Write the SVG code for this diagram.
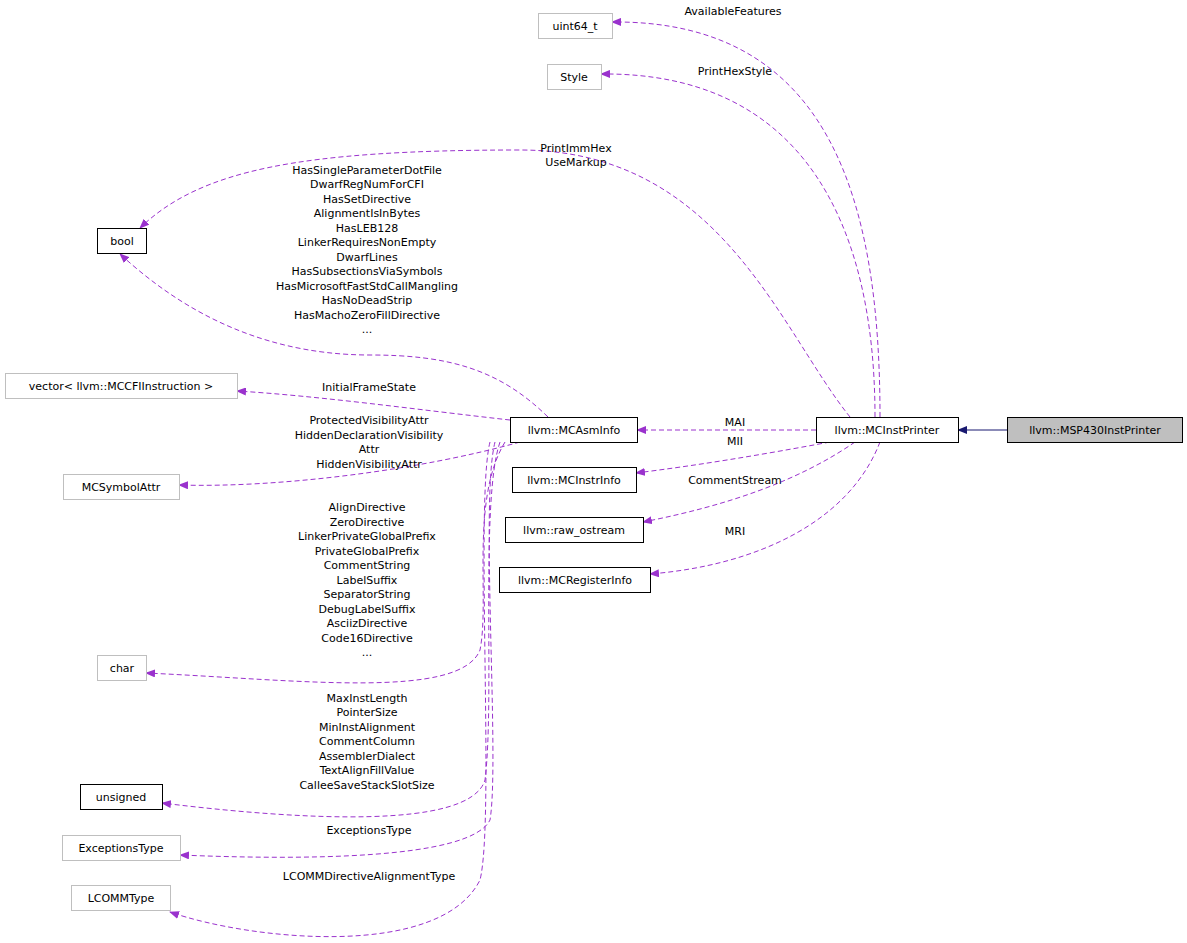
<svg xmlns="http://www.w3.org/2000/svg" width="1187" height="943" viewBox="0 0 1187 943">
<defs>
<marker id="ap" markerWidth="10" markerHeight="8" refX="9" refY="4" orient="auto" markerUnits="userSpaceOnUse"><path d="M0,0 L10,4 L0,8 Z" fill="#9a32cd"/></marker>
<marker id="an" markerWidth="10" markerHeight="8" refX="9" refY="4" orient="auto" markerUnits="userSpaceOnUse"><path d="M0,0 L10,4 L0,8 Z" fill="#191970"/></marker>
</defs>
<style>
text{font-family:"DejaVu Sans","Liberation Sans",sans-serif;font-size:11px;fill:#000}
.n rect{fill:#fff;stroke:#000}
.g rect{fill:#fff;stroke:#bfbfbf}
.e{fill:none;stroke:#9a32cd;stroke-dasharray:5,3;marker-end:url(#ap)}
.lb text{text-anchor:middle}
</style>
<rect width="1187" height="943" fill="#fff"/>
<g id="connectors">
<path class="e" d="M880,417 C880,200 830,20 612,22"/>
<path class="e" d="M875,417 C875,220 800,72 601,74"/>
<path class="e" d="M850,417 C780,330 720,150 520,150 C300,150 200,170 140,228"/>
<path class="e" d="M548,417 C500,370 450,355 370,355 C250,355 170,300 120,254"/>
<path class="e" d="M510,420 C420,410 320,396 237,391"/>
<path class="e" d="M520,442 C420,470 280,488 179,485"/>
<path class="e" d="M505,442 C470,500 490,600 480,650 C460,700 300,680 146,673"/>
<path class="e" d="M500,442 C480,500 495,700 485,780 C470,830 300,820 162,803"/>
<path class="e" d="M495,442 C480,500 500,760 490,820 C470,860 300,860 180,855"/>
<path class="e" d="M490,442 C475,500 495,820 480,880 C440,960 250,940 170,912"/>
<path class="e" d="M816,430 L637,430"/>
<path class="e" d="M830,442 C760,455 700,465 636,473"/>
<path class="e" d="M855,442 C800,480 730,505 643,522"/>
<path class="e" d="M880,442 C850,520 760,565 650,574"/>
<path d="M1007,430 L958,430" fill="none" stroke="#191970" marker-end="url(#an)"/>
<g class="lb">
<text x="733" y="15">AvailableFeatures</text>
<text x="735" y="75">PrintHexStyle</text>
<text x="576" y="152">PrintImmHex</text>
<text x="576" y="166">UseMarkup</text>
<text x="367" y="174">HasSingleParameterDotFile</text>
<text x="367" y="188">DwarfRegNumForCFI</text>
<text x="367" y="203">HasSetDirective</text>
<text x="367" y="217">AlignmentIsInBytes</text>
<text x="367" y="232">HasLEB128</text>
<text x="367" y="246">LinkerRequiresNonEmpty</text>
<text x="367" y="261">DwarfLines</text>
<text x="367" y="275">HasSubsectionsViaSymbols</text>
<text x="367" y="290">HasMicrosoftFastStdCallMangling</text>
<text x="367" y="304">HasNoDeadStrip</text>
<text x="367" y="319">HasMachoZeroFillDirective</text>
<text x="367" y="333">...</text>
<text x="369" y="391">InitialFrameState</text>
<text x="369" y="424">ProtectedVisibilityAttr</text>
<text x="369" y="439">HiddenDeclarationVisibility</text>
<text x="369" y="453">Attr</text>
<text x="369" y="468">HiddenVisibilityAttr</text>
<text x="367" y="511">AlignDirective</text>
<text x="367" y="526">ZeroDirective</text>
<text x="367" y="540">LinkerPrivateGlobalPrefix</text>
<text x="367" y="555">PrivateGlobalPrefix</text>
<text x="367" y="569">CommentString</text>
<text x="367" y="584">LabelSuffix</text>
<text x="367" y="598">SeparatorString</text>
<text x="367" y="613">DebugLabelSuffix</text>
<text x="367" y="627">AsciizDirective</text>
<text x="367" y="642">Code16Directive</text>
<text x="367" y="656">...</text>
<text x="367" y="702">MaxInstLength</text>
<text x="367" y="716">PointerSize</text>
<text x="367" y="731">MinInstAlignment</text>
<text x="367" y="745">CommentColumn</text>
<text x="367" y="760">AssemblerDialect</text>
<text x="367" y="774">TextAlignFillValue</text>
<text x="367" y="789">CalleeSaveStackSlotSize</text>
<text x="369" y="834">ExceptionsType</text>
<text x="369" y="880">LCOMMDirectiveAlignmentType</text>
<text x="735" y="426">MAI</text>
<text x="735" y="445">MII</text>
<text x="735" y="484">CommentStream</text>
<text x="735" y="535">MRI</text>
</g>
</g>
<g class="lb">
<g id="uint64_t" class="g"><rect x="538.5" y="13.5" width="74" height="25"/><text x="575" y="30">uint64_t</text></g>
<g id="Style" class="g"><rect x="547.5" y="64.5" width="54" height="25"/><text x="574" y="81">Style</text></g>
<g id="bool" class="n"><rect x="97.5" y="228.5" width="49" height="25"/><text x="122" y="245">bool</text></g>
<g id="vector" class="g"><rect x="5.5" y="373.5" width="232" height="25"/><text x="121" y="390">vector&lt; llvm::MCCFIInstruction &gt;</text></g>
<g id="MCSymbolAttr" class="g"><rect x="63.5" y="474.5" width="116" height="25"/><text x="121" y="491">MCSymbolAttr</text></g>
<g id="char" class="g"><rect x="97.5" y="655.5" width="49" height="25"/><text x="122" y="672">char</text></g>
<g id="unsigned" class="n"><rect x="80.5" y="784.5" width="82" height="25"/><text x="121" y="801">unsigned</text></g>
<g id="ExceptionsType" class="g"><rect x="62.5" y="835.5" width="118" height="25"/><text x="121" y="852">ExceptionsType</text></g>
<g id="LCOMMType" class="g"><rect x="71.5" y="885.5" width="99" height="25"/><text x="121" y="902">LCOMMType</text></g>
<g id="MCAsmInfo" class="n"><rect x="510.5" y="417.5" width="127" height="25"/><text x="574" y="434">llvm::MCAsmInfo</text></g>
<g id="MCInstrInfo" class="n"><rect x="512.5" y="467.5" width="124" height="25"/><text x="574" y="484">llvm::MCInstrInfo</text></g>
<g id="raw_ostream" class="n"><rect x="505.5" y="517.5" width="138" height="25"/><text x="574" y="534">llvm::raw_ostream</text></g>
<g id="MCRegisterInfo" class="n"><rect x="499.5" y="567.5" width="151" height="25"/><text x="575" y="584">llvm::MCRegisterInfo</text></g>
<g id="MCInstPrinter" class="n"><rect x="816.5" y="417.5" width="142" height="25"/><text x="887" y="434">llvm::MCInstPrinter</text></g>
<g id="MSP430InstPrinter"><rect x="1007.5" y="417.5" width="175" height="25" fill="#bfbfbf" stroke="#000"/><text x="1095" y="434">llvm::MSP430InstPrinter</text></g>
</g>
</svg>
